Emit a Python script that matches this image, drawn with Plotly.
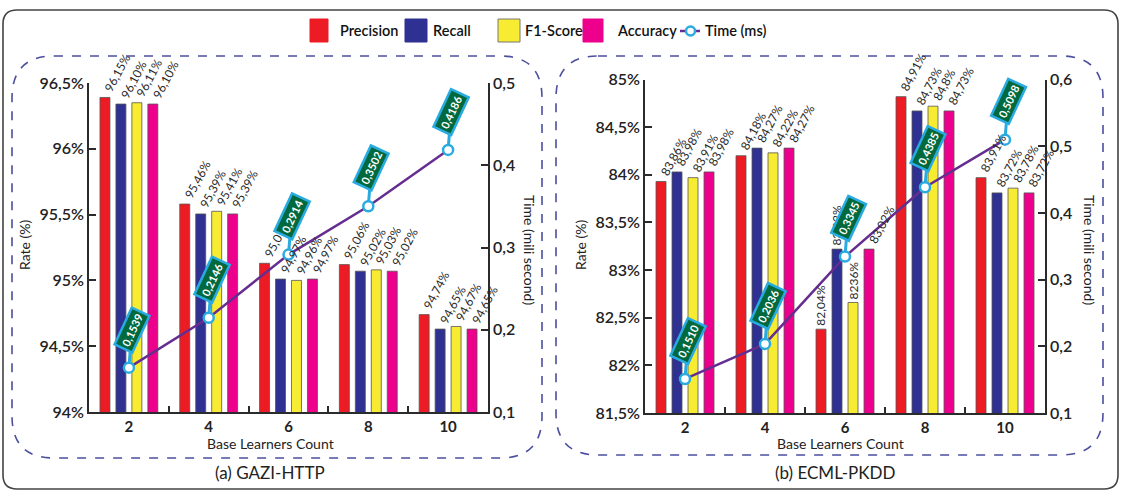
import plotly.graph_objects as go

W, H = 1139, 495
FONT = "Lato, 'Open Sans', sans-serif"

# ---------------- data ----------------
categories = ["2", "4", "6", "8", "10"]
series_names = ["Precision", "Recall", "F1-Score", "Accuracy"]

# (a) GAZI-HTTP  (bar heights as drawn, labels as printed)
gazi_precision = [96.39, 95.58, 95.13, 95.12, 94.74]
gazi_recall = [96.34, 95.505, 95.01, 95.07, 94.63]
gazi_f1 = [96.35, 95.525, 95.00, 95.08, 94.65]
gazi_accuracy = [96.34, 95.505, 95.01, 95.07, 94.63]
gazi_time = [0.1539, 0.2146, 0.2914, 0.3502, 0.4186]

gazi_precision_labels = ["96,15%", "95,46%", "95,07%", "95,06%", "94,74%"]
gazi_recall_labels = ["96,10%", "95,39%", "94,97%", "95,02%", "94,65%"]
gazi_f1_labels = ["96,11%", "95,41%", "94,96%", "95,03%", "94,67%"]
gazi_accuracy_labels = ["96,10%", "95,39%", "94,97%", "95,02%", "94,65%"]
gazi_time_labels = ["0,1539", "0,2146", "0,2914", "0,3502", "0,4186"]

# (b) ECML-PKDD
ecml_precision = [83.93, 84.20, 82.38, 84.82, 83.97]
ecml_recall = [84.03, 84.28, 83.22, 84.67, 83.81]
ecml_f1 = [83.97, 84.23, 82.66, 84.72, 83.86]
ecml_accuracy = [84.03, 84.28, 83.22, 84.67, 83.81]
ecml_time = [0.1510, 0.2036, 0.3345, 0.4385, 0.5098]

ecml_precision_labels = ["83,86%", "84,18%", "82,04%", "84,91%", "83,91%"]
ecml_recall_labels = ["83,98%", "84,27%", "83,02%", "84,73%", "83,72%"]
ecml_f1_labels = ["83,91%", "84,22%", "8236%", "84,8%", "83,78%"]
ecml_accuracy_labels = ["83,98%", "84,27%", "83,02%", "84,73%", "83,72%"]
ecml_time_labels = ["0,1510", "0,2036", "0,3345", "0,4385", "0,5098"]

# tick labels
gazi_rate_ticks = [94, 94.5, 95, 95.5, 96, 96.5]
gazi_rate_ticktext = ["94%", "94,5%", "95%", "95,5%", "96%", "96,5%"]
gazi_time_ticks = [0.1, 0.2, 0.3, 0.4, 0.5]
gazi_time_ticktext = ["0,1", "0,2", "0,3", "0,4", "0,5"]
ecml_rate_ticks = [81.5, 82, 82.5, 83, 83.5, 84, 84.5, 85]
ecml_rate_ticktext = ["81,5%", "82%", "82,5%", "83%", "83,5%", "84%", "84,5%", "85%"]
ecml_time_ticks = [0.1, 0.2, 0.3, 0.4, 0.5, 0.6]
ecml_time_ticktext = ["0,1", "0,2", "0,3", "0,4", "0,5", "0,6"]

# ---------------- style ----------------
COLORS = ["#ed1c24", "#2e3192", "#f7ec31", "#ec008c"]
LINE = "#662d91"
CYAN = "#29abe2"
GREEN = "#00693e"
DASH = "#4b4f9e"
AX = "#2b2b2b"


def px(x):
    return x / W


def py(y):
    return 1 - y / H


def rrect(x0, y0, x1, y1, r):
    pts = [
        ("M", [(x0 + r, y0)]),
        ("L", [(x1 - r, y0)]),
        ("Q", [(x1, y0), (x1, y0 + r)]),
        ("L", [(x1, y1 - r)]),
        ("Q", [(x1, y1), (x1 - r, y1)]),
        ("L", [(x0 + r, y1)]),
        ("Q", [(x0, y1), (x0, y1 - r)]),
        ("L", [(x0, y0 + r)]),
        ("Q", [(x0, y0), (x0 + r, y0)]),
    ]
    s = ""
    for cmd, ps in pts:
        s += cmd + " ".join(f"{px(a):.5f},{py(b):.5f}" for a, b in ps) + " "
    return s + "Z"


fig = go.Figure()

panels = [
    dict(
        xa="x", ya="y", ya2="y2",
        vals=[gazi_precision, gazi_recall, gazi_f1, gazi_accuracy],
        labels=[gazi_precision_labels, gazi_recall_labels, gazi_f1_labels, gazi_accuracy_labels],
        time=gazi_time, tlabels=gazi_time_labels, vertical=[],
    ),
    dict(
        xa="x2", ya="y3", ya2="y4",
        vals=[ecml_precision, ecml_recall, ecml_f1, ecml_accuracy],
        labels=[ecml_precision_labels, ecml_recall_labels, ecml_f1_labels, ecml_accuracy_labels],
        time=ecml_time, tlabels=ecml_time_labels, vertical=[(0, 2), (1, 2), (2, 2)],
    ),
]

annotations = []
bar_shift = [-24, -8, 8, 24]
LABEL_FONT = dict(family=FONT, size=12, color="#2a2a2a")

for p in panels:
    for s in range(4):
        fig.add_trace(go.Bar(
            x=categories, y=p["vals"][s], name=series_names[s],
            xaxis=p["xa"], yaxis=p["ya"],
            marker=dict(color=COLORS[s], line=dict(color="#555555", width=0.8)),
            showlegend=False,
        ))
        for ci in range(len(categories)):
            vertical = (s, ci) in p["vertical"]
            annotations.append(dict(
                x=ci, y=p["vals"][s][ci], xref=p["xa"], yref=p["ya"],
                text=p["labels"][s][ci], showarrow=False,
                textangle=-90 if vertical else -62,
                xanchor="center" if vertical else "left", yanchor="bottom",
                xshift=bar_shift[s] if vertical else bar_shift[s] - 5,
                yshift=2, font=LABEL_FONT, borderpad=0,
            ))
    fig.add_trace(go.Scatter(
        x=categories, y=p["time"], name="Time (ms)", xaxis=p["xa"], yaxis=p["ya2"],
        mode="lines+markers", line=dict(color=LINE, width=2.5),
        marker=dict(size=10, color="white", line=dict(color=CYAN, width=2.5)),
        cliponaxis=False, showlegend=False,
    ))
    for i, (t, lab) in enumerate(zip(p["time"], p["tlabels"])):
        annotations.append(dict(
            x=i, y=t, xref=p["xa"], yref=p["ya2"], text=lab, showarrow=True,
            arrowhead=0, arrowwidth=3, arrowcolor=CYAN, ax=3, ay=-38, standoff=5,
            textangle=-65, font=dict(family=FONT, size=11, color="white", weight=700),
            bgcolor=GREEN, bordercolor=CYAN, borderwidth=2.5, borderpad=2,
        ))

axis_common = dict(
    showline=True, linecolor=AX, linewidth=1.6, ticks="inside", ticklen=7,
    tickwidth=1.6, tickcolor=AX, showgrid=False, zeroline=False, automargin=False,
    tickfont=dict(family=FONT, size=16, color="#222", weight=600),
)
xcommon = dict(axis_common, type="category", tickson="boundaries", ticklen=6,
               tickfont=dict(family=FONT, size=15, color="#222", weight=700),
               range=[-0.5, 4.5])

fig.update_layout(
    template="none",
    width=W, height=H, margin=dict(l=0, r=0, t=0, b=0, pad=0), autosize=False,
    paper_bgcolor="white", plot_bgcolor="rgba(0,0,0,0)",
    barmode="group", bargap=0.2, bargroupgap=0.375,
    showlegend=False,
    xaxis=dict(xcommon, domain=[px(89), px(488)], anchor="y"),
    yaxis=dict(axis_common, domain=[py(412), py(83)], range=[94, 96.5], anchor="x",
               tickvals=gazi_rate_ticks, ticktext=gazi_rate_ticktext),
    yaxis2=dict(axis_common, overlaying="y", side="right", anchor="x", range=[0.1, 0.5],
                tickvals=gazi_time_ticks, ticktext=gazi_time_ticktext),
    xaxis2=dict(xcommon, domain=[px(645), px(1045)], anchor="y3"),
    yaxis3=dict(axis_common, domain=[py(413), py(79.5)], range=[81.5, 85], anchor="x2",
                tickvals=ecml_rate_ticks, ticktext=ecml_rate_ticktext),
    yaxis4=dict(axis_common, overlaying="y3", side="right", anchor="x2", range=[0.1, 0.6],
                tickvals=ecml_time_ticks, ticktext=ecml_time_ticktext),
)

shapes = []
# outer frame and dashed panels
shapes.append(dict(type="path", path=rrect(3, 10, 1118, 489, 14), xref="paper", yref="paper",
                   line=dict(color="#444", width=1.6), layer="below"))
shapes.append(dict(type="path", path=rrect(12, 56, 542, 458, 42), xref="paper", yref="paper",
                   line=dict(color=DASH, width=1.6, dash="dash"), layer="below"))
shapes.append(dict(type="path", path=rrect(556, 56, 1103, 455, 42), xref="paper", yref="paper",
                   line=dict(color=DASH, width=1.6, dash="dash"), layer="below"))

# custom legend
legend_items = [(310, 328, 338, "Precision"), (405, 427, 431, "Recall"),
                (498, 520, 523, "F1-Score"), (583, 603, 615, "Accuracy")]
for i, (a, b, tx, name) in enumerate(legend_items):
    shapes.append(dict(type="rect", xref="paper", yref="paper", x0=px(a), x1=px(b),
                       y0=py(42), y1=py(19), fillcolor=COLORS[i],
                       line=dict(color="#777" if i == 2 else COLORS[i], width=1)))
    annotations.append(dict(x=px(tx), y=py(31), xref="paper", yref="paper", text=name,
                            showarrow=False, xanchor="left", yanchor="middle",
                            font=dict(family=FONT, size=14.5, color="#111", weight=600)))
shapes.append(dict(type="line", xref="paper", yref="paper", x0=px(680), x1=px(700),
                   y0=py(31), y1=py(31), line=dict(color=LINE, width=2.5)))
shapes.append(dict(type="circle", xref="paper", yref="paper", x0=px(686), x1=px(695),
                   y0=py(35.5), y1=py(26.5), fillcolor="white", line=dict(color=CYAN, width=2.5)))
annotations.append(dict(x=px(703), y=py(31), xref="paper", yref="paper", text="Time (ms)",
                        showarrow=False, xanchor="left", yanchor="middle",
                        font=dict(family=FONT, size=14.5, color="#111", weight=600)))


# axis titles and captions
def note(x, y, text, size, angle=0, weight=None):
    f = dict(family=FONT, size=size, color="#222")
    if weight:
        f["weight"] = weight
    annotations.append(dict(x=px(x), y=py(y), xref="paper", yref="paper", text=text,
                            showarrow=False, textangle=angle, xanchor="center",
                            yanchor="middle", font=f))


note(24, 245, "Rate (%)", 14, -90)
note(580, 245, "Rate (%)", 14, -90)
note(530, 250, "Time (mili second)", 14, 90)
note(1090, 250, "Time (mili second)", 14, 90)
note(270, 443, "Base Learners Count", 14)
note(840, 443, "Base Learners Count", 14)
note(270, 472, "(a) GAZI-HTTP", 17)
note(835, 472, "(b) ECML-PKDD", 17)

fig.update_layout(shapes=shapes, annotations=annotations)
fig.write_html("out.html", config={"displayModeBar": False},
               post_script="document.body.style.margin='0px';document.body.style.overflow='hidden';")
